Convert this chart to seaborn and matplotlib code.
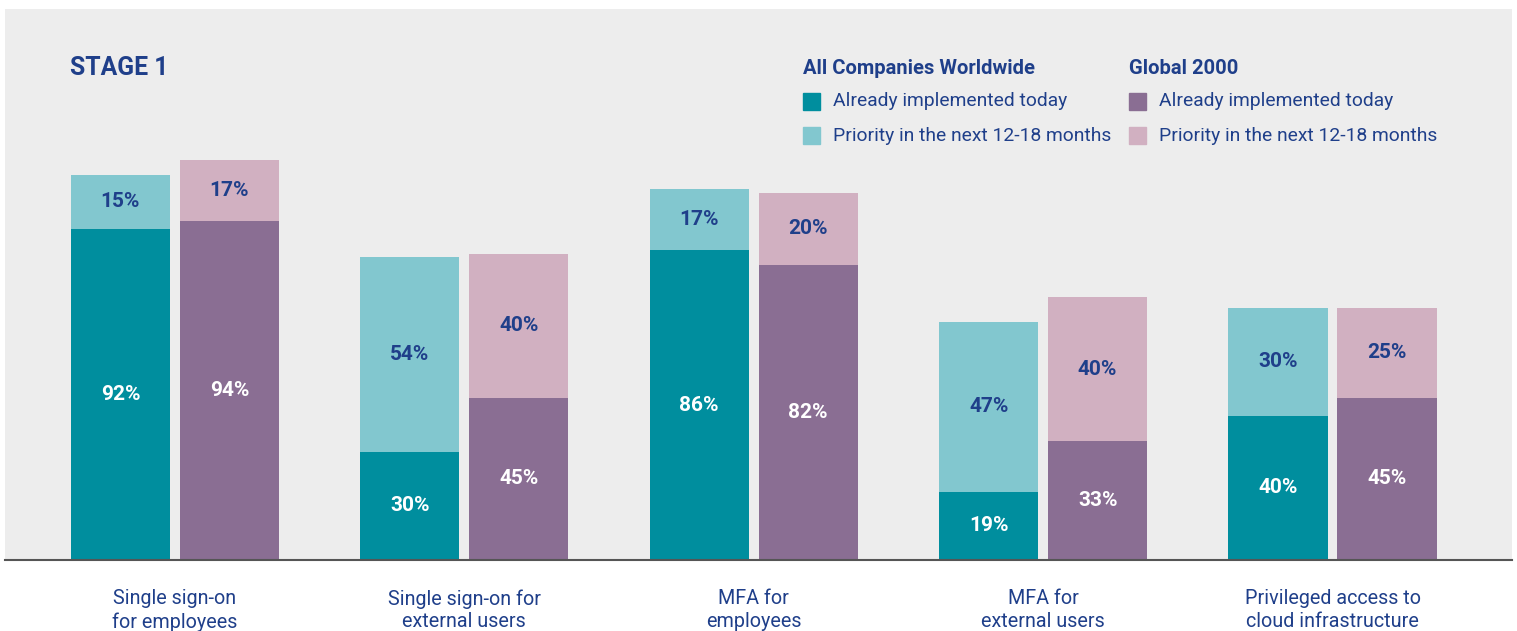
import matplotlib
matplotlib.use("Agg")
import matplotlib.pyplot as plt
from matplotlib.patches import Rectangle
import seaborn as sns
import pandas as pd

# data
categories = [
    "Single sign-on\nfor employees",
    "Single sign-on for\nexternal users",
    "MFA for\nemployees",
    "MFA for\nexternal users",
    "Privileged access to\ncloud infrastructure",
]
groups = ["All Companies Worldwide", "Global 2000"]
all_implemented = [92, 30, 86, 19, 40]
all_priority = [15, 54, 17, 47, 30]
g2k_implemented = [94, 45, 82, 33, 45]
g2k_priority = [17, 40, 20, 40, 25]

legend_items = ["Already implemented today", "Priority in the next 12-18 months"]

# colours
TEAL = "#008e9e"
TEAL_LIGHT = "#82c7cf"
PURPLE = "#8a6e93"
PINK = "#d1b0c1"
NAVY = "#1f3f8a"
BG = "#ededed"

W, H = 1517, 631

sns.set_theme(style="white")
plt.rcParams["font.family"] = ["Roboto", "DejaVu Sans"]

df = pd.DataFrame({
    "category": categories * 2,
    "group": [groups[0]] * 5 + [groups[1]] * 5,
    "implemented": all_implemented + g2k_implemented,
    "priority": all_priority + g2k_priority,
})
df["total"] = df["implemented"] + df["priority"]

fig = plt.figure(figsize=(W / 100, H / 100), dpi=100)
ax = fig.add_axes([5 / W, (H - 560) / H, 1507 / W, 551 / H])
ax.set_facecolor(BG)

# light segment drawn full height, dark segment on top of it
sns.barplot(data=df, x="category", y="total", hue="group", order=categories,
            hue_order=groups, palette=[TEAL_LIGHT, PINK], width=0.753, gap=0.09,
            saturation=1, legend=False, ax=ax, linewidth=0)
sns.barplot(data=df, x="category", y="implemented", hue="group", order=categories,
            hue_order=groups, palette=[TEAL, PURPLE], width=0.753, gap=0.09,
            saturation=1, legend=False, ax=ax, linewidth=0)

# value labels
impl_vals = [all_implemented, g2k_implemented]
prio_vals = [all_priority, g2k_priority]
for gi in range(2):
    total_bars = ax.containers[gi]
    for ci, bar in enumerate(total_bars):
        xc = bar.get_x() + bar.get_width() / 2
        imp = impl_vals[gi][ci]
        pri = prio_vals[gi][ci]
        ax.text(xc, imp / 2, f"{imp}%", ha="center", va="center", color="white",
                fontsize=15, fontweight="bold")
        ax.text(xc, imp + pri / 2, f"{pri}%", ha="center", va="center", color=NAVY,
                fontsize=15, fontweight="bold")

ax.set_xlim(-0.587, 4.62)
ax.set_ylim(0, 153)
ax.set_xlabel("")
ax.set_ylabel("")
ax.set_yticks([])
ax.tick_params(axis="x", length=0, pad=21, labelsize=14.2, labelcolor=NAVY)
for lbl in ax.get_xticklabels():
    lbl.set_linespacing(1.25)
for side in ["top", "left", "right"]:
    ax.spines[side].set_visible(False)
ax.spines["bottom"].set_color("#555555")
ax.spines["bottom"].set_linewidth(1.5)

# title
fig.text(70 / W, 1 - 68 / H, "STAGE 1", color=NAVY, fontsize=17.8, fontweight="bold",
         va="center", ha="left")

# legend built by hand
legend_cols = [(803, groups[0], [TEAL, TEAL_LIGHT]), (1129, groups[1], [PURPLE, PINK])]
for x0, head, cols in legend_cols:
    fig.text(x0 / W, 1 - 68 / H, head, color=NAVY, fontsize=14.5, fontweight="bold",
             va="center", ha="left")
    for row, (label, col) in enumerate(zip(legend_items, cols)):
        yc = 101 + row * 35
        fig.patches.append(Rectangle((x0 / W, 1 - (yc + 8.5) / H), 17 / W, 17 / H,
                                     transform=fig.transFigure, color=col))
        fig.text((x0 + 30) / W, 1 - yc / H, label, color=NAVY, fontsize=13.9,
                 va="center", ha="left")

fig.savefig("out.png", dpi=100)
